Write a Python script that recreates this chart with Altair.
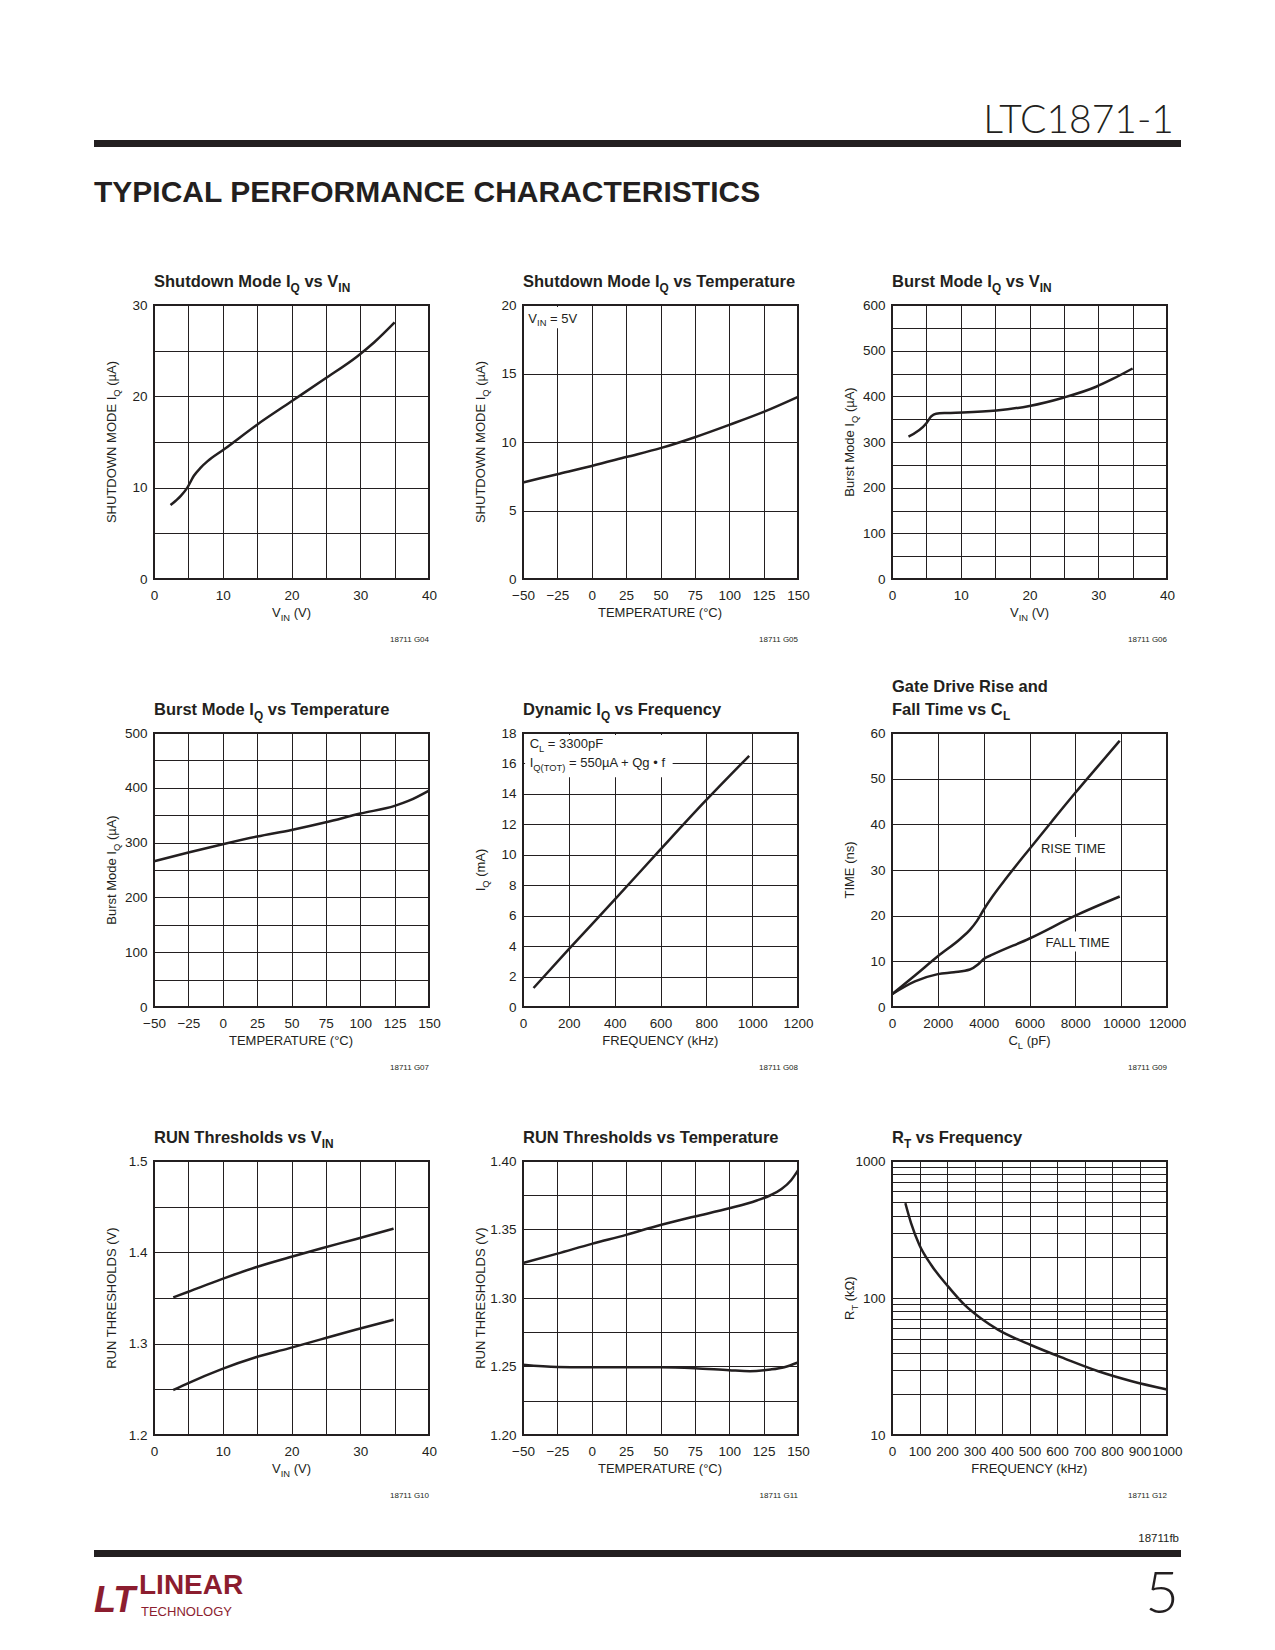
import altair as alt
import pandas as pd

# ---------------- data ----------------
# G04  Shutdown Mode IQ vs VIN
g04_vin = [2.4, 3.2, 3.9, 4.85, 5.8, 6.8, 7.8, 10.2, 15.0, 19.9, 24.8, 29.6, 32.0, 35.0]
g04_iq = [8.1, 8.6, 9.1, 10.0, 11.3, 12.2, 12.9, 14.2, 16.9, 19.4, 21.9, 24.4, 25.9, 28.1]
# G05  Shutdown Mode IQ vs Temperature
g05_t = [-50, -25, 0, 25, 50, 75, 100, 125, 150]
g05_iq = [7.05, 7.65, 8.25, 8.9, 9.55, 10.35, 11.25, 12.2, 13.3]
# G06  Burst Mode IQ vs VIN
g06_vin = [2.4, 5.0, 5.7, 6.4, 8.0, 10.3, 15.2, 20.0, 24.9, 29.7, 32.1, 35.0]
g06_iq = [312, 341, 356, 362, 363.5, 364.5, 369, 379, 397, 421, 438, 461]
# G07  Burst Mode IQ vs Temperature
g07_t = [-50, -25, 0, 25, 50, 75, 100, 125, 135, 150]
g07_iq = [266, 282, 297, 311, 323, 337, 353, 367, 376, 395]
# G08  Dynamic IQ vs Frequency
g08_f = [46, 200, 400, 600, 800, 987]
g08_iq = [1.25, 3.8, 7.05, 10.35, 13.6, 16.5]
# G09  Gate drive rise / fall time vs CL
g09_c_rise = [0, 1000, 2000, 3000, 3400, 3700, 4000, 4400, 5000, 6000, 7000, 8000, 9000, 9937]
g09_rise = [2.8, 6.9, 11.1, 15.0, 16.9, 18.8, 21.3, 24.3, 28.3, 34.6, 40.8, 46.9, 52.8, 58.3]
g09_c_fall = [0, 1000, 2000, 2700, 3400, 3750, 4000, 4400, 6000, 8000, 9937]
g09_fall = [2.8, 5.6, 7.2, 7.6, 8.2, 9.3, 10.5, 11.5, 15.0, 20.0, 24.2]
# G10  RUN thresholds vs VIN
g10_vin = [2.8, 5.0, 9.85, 14.7, 19.6, 24.4, 29.3, 34.85]
g10_upper = [1.3506, 1.3568, 1.3706, 1.3834, 1.3943, 1.4045, 1.4144, 1.426]
g10_lower = [1.2492, 1.2569, 1.2722, 1.2849, 1.2948, 1.3050, 1.3152, 1.3261]
# G11  RUN thresholds vs Temperature
g11_t_upper = [-50, -25, 0, 25, 50, 75, 100, 120, 130, 138, 145, 150]
g11_upper = [1.3256, 1.3324, 1.3395, 1.3461, 1.3533, 1.3595, 1.3655, 1.3712, 1.3750, 1.3795, 1.3860, 1.3932]
g11_t_lower = [-50, -25, 0, 25, 50, 75, 100, 115, 130, 140, 150]
g11_lower = [1.2512, 1.2496, 1.2495, 1.2495, 1.2495, 1.2488, 1.2473, 1.2466, 1.2478, 1.2495, 1.2529]
# G12  RT vs Frequency
g12_f = [48.6, 69.3, 99.6, 142, 203, 264, 324, 385, 507, 628, 750, 872, 1000]
g12_rt = [492, 352, 244, 175, 122, 89, 70.8, 58.8, 45.2, 36.1, 29.2, 24.7, 21.5]

# axis tick / grid values
vin_grid = list(range(0, 45, 5))
temp_grid = list(range(-50, 175, 25))
g04_y = list(range(0, 35, 5))
g05_y = list(range(0, 25, 5))
g06_y = list(range(0, 650, 50))
g07_y = list(range(0, 550, 50))
g08_x = list(range(0, 1400, 200))
g08_y = list(range(0, 20, 2))
g09_x = list(range(0, 14000, 2000))
g09_y = list(range(0, 70, 10))
g10_y = [round(1.2 + 0.05 * i, 3) for i in range(7)]
g11_y = [round(1.2 + 0.025 * i, 4) for i in range(9)]
g12_x = list(range(0, 1100, 100))
g12_y = [10, 20, 30, 40, 50, 60, 70, 80, 90, 100, 200, 300, 400, 500, 600, 700, 800, 900, 1000]

# ---------------- styling helpers ----------------
BLACK = "#231f20"
RED = "#8c1d2f"
FONT = "Liberation Sans, Arial, sans-serif"
LIGHT = "Lato, Open Sans, sans-serif"
W, H = 275, 274
TICK, AXT, TITLE, ANN, CODE = 13.5, 13, 16.5, 13, 8
ONE = alt.Data(values=[{"k": 0}])

_U = "ABCDEFGHIJKLMNOPQRSTUVWXYZ"
_L = "abcdefghijklmnopqrstuvwxyz"
REG = dict(zip(_U, [667, 667, 722, 722, 667, 611, 778, 722, 278, 500, 667, 556, 833, 722, 778, 667, 778, 722, 667, 611, 722, 667, 944, 667, 667, 611]))
REG.update(zip(_L, [556, 556, 500, 556, 556, 278, 556, 556, 222, 222, 500, 222, 833, 556, 556, 556, 556, 333, 500, 278, 556, 500, 722, 500, 500, 500]))
BOLD = dict(zip(_U, [722, 722, 722, 722, 667, 611, 778, 722, 278, 556, 722, 611, 833, 722, 778, 667, 778, 722, 667, 611, 722, 667, 944, 667, 667, 611]))
BOLD.update(zip(_L, [556, 611, 556, 611, 556, 333, 611, 611, 278, 278, 556, 278, 889, 611, 611, 611, 611, 389, 556, 333, 611, 556, 778, 556, 556, 500]))
PUNCT = {" ": 278, "(": 333, ")": 333, "+": 584, "=": 584, "-": 333, ".": 278, "•": 350, "µ": 577, "Ω": 768, "°": 400}
for _d in "0123456789":
    PUNCT[_d] = 556
REG.update(PUNCT)
BOLD.update(PUNCT)
SUB = 0.72


def tw(s, size, bold):
    t = BOLD if bold else REG
    return sum(t.get(c, 556) for c in s) * size / 1000.0


def rich(segs, x, y, size, bold=False, angle=0, align="left"):
    ws = [tw(t, size * SUB if s else size, bold) for t, s in segs]
    total = sum(ws)
    off = {"left": 0.0, "center": -total / 2.0, "right": -total}[align]
    out = []
    for (t, s), w in zip(segs, ws):
        fs = size * SUB if s else size
        stripped = t.lstrip(" ")
        lead = tw(t[: len(t) - len(stripped)], fs, bold)
        out.append(
            alt.Chart(ONE)
            .mark_text(
                text=stripped, align="left", baseline="alphabetic",
                dx=round(off + lead, 2), dy=round(size * 0.28, 2) if s else 0,
                angle=angle, font=FONT, fontSize=round(fs, 2),
                fontWeight="bold" if bold else "normal", color=BLACK,
            )
            .encode(x=x, y=y)
        )
        off += w
    return out


def ptext(txt, x, y, size, font=FONT, weight="normal", align="left", color=BLACK, style="normal"):
    return (
        alt.Chart(ONE)
        .mark_text(text=txt, align=align, baseline="alphabetic", font=font, fontSize=size,
                   fontWeight=weight, fontStyle=style, color=color)
        .encode(x=alt.value(x), y=alt.value(y))
    )


def prect(x1, x2, y1, y2, color=BLACK, opacity=1):
    return alt.Chart(ONE).mark_rect(color=color, opacity=opacity).encode(
        x=alt.value(x1), x2=alt.value(x2), y=alt.value(y1), y2=alt.value(y2))


def axis(values, expr, pad):
    return alt.Axis(values=values, grid=True, gridColor=BLACK, gridWidth=1, gridOpacity=1,
                    domain=False, ticks=False, tickSize=0, labelFont=FONT, labelFontSize=TICK,
                    labelColor=BLACK, labelPadding=pad, labelFlush=False, labelOverlap=False,
                    labelExpr=expr, title=None)


INT = "format(datum.value, 'd')"
EVERY10 = "datum.value % 10 == 0 ? format(datum.value, 'd') : ''"
EVERY100 = "datum.value % 100 == 0 ? format(datum.value, 'd') : ''"
TEMP = "datum.label"


def panel(series, xdom, ydom, xvals, yvals, xexpr, yexpr, title_lines, xtitle, ytitle, code,
          ylog=False, extras=None):
    xs = alt.Scale(domain=xdom, nice=False, zero=False)
    if ylog:
        ys = alt.Scale(domain=ydom, type="log", nice=False)
    else:
        ys = alt.Scale(domain=ydom, nice=False, zero=False)
    xa = axis(xvals, xexpr, 9)
    ya = axis(yvals, yexpr, 7)

    def xd(v):
        return alt.XDatum(v, type="quantitative", scale=xs, axis=xa)

    def yd(v):
        return alt.YDatum(v, type="quantitative", scale=ys, axis=ya)

    rows = []
    for name, xv, yv in series:
        rows += [{"x": a, "y": b, "s": name} for a, b in zip(xv, yv)]
    df = pd.DataFrame(rows)
    line = alt.Chart(df).mark_line(color=BLACK, strokeWidth=2.5, interpolate="monotone").encode(
        x=alt.X("x:Q", scale=xs, axis=xa), y=alt.Y("y:Q", scale=ys, axis=ya), detail="s:N")

    back, front = [], []
    if extras:
        back, front = extras(xd, yd)

    frame = alt.Chart(ONE).mark_rect(fillOpacity=0, stroke=BLACK, strokeWidth=2).encode(
        x=alt.value(0), x2=alt.value(W), y=alt.value(0), y2=alt.value(H))

    texts = []
    n = len(title_lines)
    for i, segs in enumerate(title_lines):
        texts += rich(segs, alt.value(0), alt.value(-18 - 23 * (n - 1 - i)), TITLE, bold=True)
    texts += rich(xtitle, alt.value(W / 2), alt.value(H + 38), AXT, align="center")
    texts += rich(ytitle, alt.value(-38), alt.value(H / 2), AXT, angle=270, align="center")
    texts.append(ptext(code, W, H + 63, CODE, align="right"))

    return alt.layer(*back, line, *front, frame, *texts).properties(width=W, height=H)


def white_rect(xd, yd, x1, x2, y1, y2):
    return alt.Chart(ONE).mark_rect(color="white").encode(
        x=xd(x1), x2=alt.X2Datum(x2), y=yd(y1), y2=alt.Y2Datum(y2))


def g05_extras(xd, yd):
    back = [white_rect(xd, yd, -48.5, -7, 18.3, 19.85)]
    front = rich([("V", 0), ("IN", 1), (" = 5V", 0)], xd(-46.1), yd(18.71), ANN)
    return back, front


def g08_extras(xd, yd):
    back = [white_rect(xd, yd, 9, 653, 15.1, 17.87)]
    front = rich([("C", 0), ("L", 1), (" = 3300pF", 0)], xd(29), yd(17.02), ANN)
    front += rich([("I", 0), ("Q(TOT)", 1), (" = 550µA + Qg • f", 0)], xd(29), yd(15.75), ANN)
    return back, front


def g09_extras(xd, yd):
    back = [white_rect(xd, yd, 6550, 9300, 32.8, 37.2),
            white_rect(xd, yd, 6750, 9500, 12.15, 16.55)]
    front = rich([("RISE TIME", 0)], xd(7918), yd(33.8), ANN, align="center")
    front += rich([("FALL TIME", 0)], xd(8129), yd(13.04), ANN, align="center")
    return back, front


VIN_T = [("V", 0), ("IN", 1), (" (V)", 0)]
TEMP_T = [("TEMPERATURE (°C)", 0)]
FREQ_T = [("FREQUENCY (kHz)", 0)]
SD_Y = [("SHUTDOWN MODE I", 0), ("Q", 1), (" (µA)", 0)]
BM_Y = [("Burst Mode I", 0), ("Q", 1), (" (µA)", 0)]
RUN_Y = [("RUN THRESHOLDS (V)", 0)]

p04 = panel([("a", g04_vin, g04_iq)], [0, 40], [0, 30], vin_grid, g04_y, EVERY10, EVERY10,
            [[("Shutdown Mode I", 0), ("Q", 1), (" vs V", 0), ("IN", 1)]], VIN_T, SD_Y, "18711 G04")
p05 = panel([("a", g05_t, g05_iq)], [-50, 150], [0, 20], temp_grid, g05_y, TEMP, INT,
            [[("Shutdown Mode I", 0), ("Q", 1), (" vs Temperature", 0)]], TEMP_T, SD_Y, "18711 G05",
            extras=g05_extras)
p06 = panel([("a", g06_vin, g06_iq)], [0, 40], [0, 600], vin_grid, g06_y, EVERY10, EVERY100,
            [[("Burst Mode I", 0), ("Q", 1), (" vs V", 0), ("IN", 1)]], VIN_T, BM_Y, "18711 G06")
p07 = panel([("a", g07_t, g07_iq)], [-50, 150], [0, 500], temp_grid, g07_y, TEMP, EVERY100,
            [[("Burst Mode I", 0), ("Q", 1), (" vs Temperature", 0)]], TEMP_T, BM_Y, "18711 G07")
p08 = panel([("a", g08_f, g08_iq)], [0, 1200], [0, 18], g08_x, g08_y, INT, INT,
            [[("Dynamic I", 0), ("Q", 1), (" vs Frequency", 0)]], FREQ_T,
            [("I", 0), ("Q", 1), (" (mA)", 0)], "18711 G08", extras=g08_extras)
p09 = panel([("rise", g09_c_rise, g09_rise), ("fall", g09_c_fall, g09_fall)], [0, 12000], [0, 60],
            g09_x, g09_y, INT, INT,
            [[("Gate Drive Rise and", 0)], [("Fall Time vs C", 0), ("L", 1)]],
            [("C", 0), ("L", 1), (" (pF)", 0)], [("TIME (ns)", 0)], "18711 G09", extras=g09_extras)
p10 = panel([("up", g10_vin, g10_upper), ("lo", g10_vin, g10_lower)], [0, 40], [1.2, 1.5],
            vin_grid, g10_y, EVERY10,
            "abs(datum.value * 10 - round(datum.value * 10)) < 0.01 ? format(datum.value, '.1f') : ''",
            [[("RUN Thresholds vs V", 0), ("IN", 1)]], VIN_T, RUN_Y, "18711 G10")
p11 = panel([("up", g11_t_upper, g11_upper), ("lo", g11_t_lower, g11_lower)], [-50, 150], [1.2, 1.4],
            temp_grid, g11_y, TEMP,
            "abs(datum.value * 20 - round(datum.value * 20)) < 0.01 ? format(datum.value, '.2f') : ''",
            [[("RUN Thresholds vs Temperature", 0)]], TEMP_T, RUN_Y, "18711 G11")
p12 = panel([("a", g12_f, g12_rt)], [0, 1000], [10, 1000], g12_x, g12_y, INT,
            "datum.value == 10 || datum.value == 100 || datum.value == 1000 ? format(datum.value, 'd') : ''",
            [[("R", 0), ("T", 1), (" vs Frequency", 0)]], FREQ_T,
            [("R", 0), ("T", 1), (" (kΩ)", 0)], "18711 G12", ylog=True)

# page header, drawn around the first (blank) cell of row 1 (cell origin = page (8, 305))
header = alt.layer(
    prect(0, 1, -297, -296, opacity=0),
    ptext("LTC1871-1", 1166, -172, 39, font=LIGHT, weight=300, align="right"),
    prect(86, 1173, -165, -158),
    ptext("TYPICAL PERFORMANCE CHARACTERISTICS", 86, -103, 30, weight="bold"),
).properties(width=52, height=H)

spacer = prect(0, 1, 0, 1, opacity=0).properties(width=52, height=H)

# page footer, drawn around the first (blank) cell of row 3 (cell origin = page (8, 1161))
footer = alt.layer(
    ptext("18711fb", 1171, 381, 11.5, align="right"),
    prect(86, 1173, 389, 396),
    ptext("5", 1171, 452, 58, font=LIGHT, weight=300, align="right"),
    ptext("LT", 86, 451, 36, weight="bold", style="italic", color=RED),
    ptext("LINEAR", 131, 433, 28, weight="bold", color=RED),
    ptext("TECHNOLOGY", 133, 455, 13, color=RED),
).properties(width=52, height=H)

chart = alt.concat(
    header, p04, p05, p06,
    spacer, p07, p08, p09,
    footer, p10, p11, p12,
    columns=4, spacing={"row": 154, "column": 94}, bounds="flush", padding=0,
).configure_view(strokeOpacity=0, strokeWidth=0)

chart.save("out.html", embed_options={"renderer": "svg", "actions": False})
